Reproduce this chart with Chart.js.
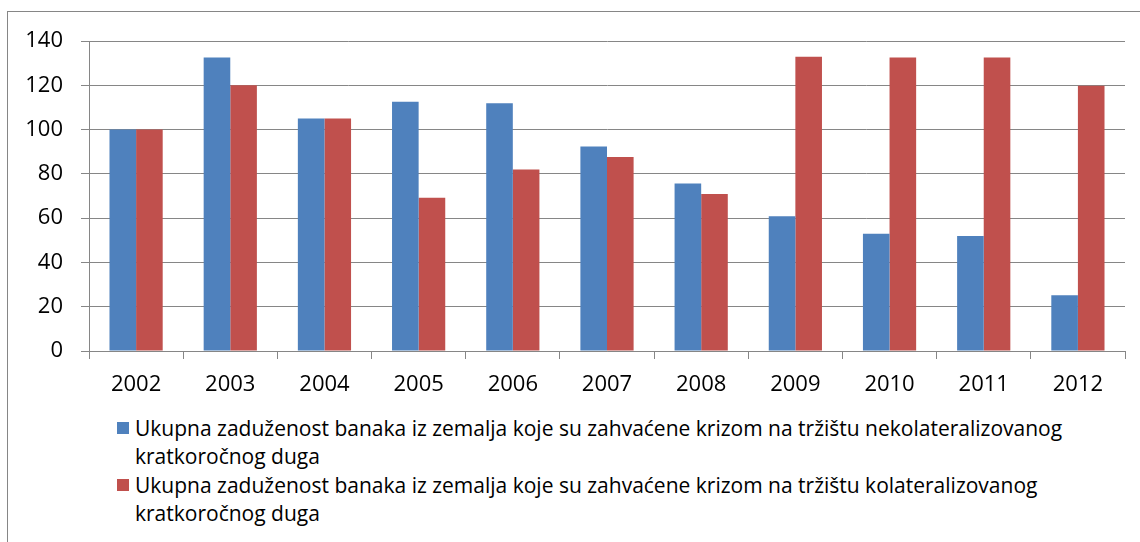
<!DOCTYPE html>
<html>
<head>
<meta charset="utf-8">
<script src="https://cdn.jsdelivr.net/npm/chart.js@4/dist/chart.umd.min.js"></script>
<style>
  html, body { margin: 0; padding: 0; background: #fff; }
  #wrap { position: relative; width: 1140px; height: 542px; overflow: hidden; }
  #frame { position: absolute; left: 7px; top: 11px; width: 1200px; height: 600px;
           border-left: 1px solid #868686; border-top: 1px solid #868686; }
  #chartBox { position: absolute; left: 0; top: 0; width: 1140px; height: 400px; }
  #legend { position: absolute; left: 117px; top: 414px; width: 1020px;
            font-family: 'Open Sans', sans-serif; font-size: 21px; line-height: 28px; color: #000; }
  .item { position: relative; padding-left: 18px; margin-bottom: 1px; white-space: nowrap; }
  .box { position: absolute; left: 0; top: 8px; width: 12px; height: 12px; }
</style>
</head>
<body>
<div id="wrap">
  <div id="frame"></div>
  <div id="chartBox"><canvas id="c"></canvas></div>
  <div id="legend"></div>
</div>
<script>
// categories and series
const years = ['2002', '2003', '2004', '2005', '2006', '2007', '2008', '2009', '2010', '2011', '2012'];
const unsecured = [100, 132.6, 105, 112.6, 111.9, 92.3, 75.7, 60.8, 53, 51.9, 25.2];
const secured = [100, 120, 105, 69.2, 82, 87.6, 70.9, 132.9, 132.6, 132.5, 119.8];
const seriesNames = [
  'Ukupna zaduženost banaka iz zemalja koje su zahvaćene krizom na tržištu nekolateralizovanog kratkoročnog duga',
  'Ukupna zaduženost banaka iz zemalja koje su zahvaćene krizom na tržištu kolateralizovanog kratkoročnog duga'
];
const seriesColors = ['#4F81BD', '#C0504D'];

const gridColor = '#868686';

new Chart(document.getElementById('c'), {
  type: 'bar',
  data: {
    labels: years,
    datasets: [
      { label: seriesNames[0], data: unsecured, backgroundColor: seriesColors[0] },
      { label: seriesNames[1], data: secured, backgroundColor: seriesColors[1] }
    ]
  },
  options: {
    responsive: true,
    maintainAspectRatio: false,
    animation: false,
    datasets: { bar: { categoryPercentage: 0.565, barPercentage: 1 } },
    layout: { padding: { top: 41, right: 15, bottom: 0, left: 0 } },
    plugins: { legend: { display: false }, tooltip: { enabled: false } },
    scales: {
      x: {
        grid: { offset: true, drawOnChartArea: false, drawTicks: true, tickLength: 8, color: gridColor },
        border: { color: gridColor },
        ticks: { color: '#000', padding: 13, font: { family: 'Open Sans', size: 22 } },
        afterFit: s => { s.height = 49; }
      },
      y: {
        min: 0, max: 140,
        grid: { color: gridColor, tickLength: 8 },
        border: { color: gridColor },
        ticks: { stepSize: 20, color: '#000', padding: 18, font: { family: 'Open Sans', size: 22 } },
        afterFit: s => { s.width = 89; }
      }
    }
  }
});

// legend with wrapped labels, built from the same series names
const legend = document.getElementById('legend');
seriesNames.forEach((name, i) => {
  const item = document.createElement('div');
  item.className = 'item';
  const box = document.createElement('span');
  box.className = 'box';
  box.style.background = seriesColors[i];
  item.appendChild(box);
  const words = name.split(' ');
  const first = words.slice(0, -2).join(' ');
  const rest = words.slice(-2).join(' ');
  item.appendChild(document.createTextNode(first));
  item.appendChild(document.createElement('br'));
  item.appendChild(document.createTextNode(rest));
  legend.appendChild(item);
});
</script>
</body>
</html>
